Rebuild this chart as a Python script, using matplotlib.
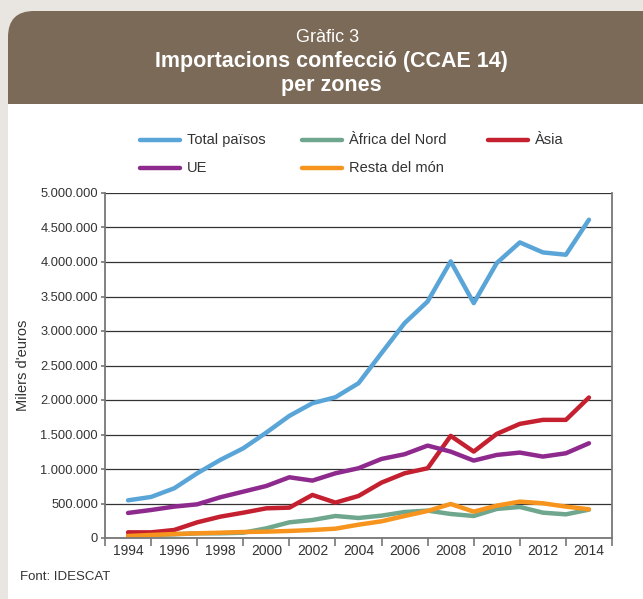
import matplotlib
matplotlib.use('Agg')
import matplotlib.pyplot as plt
from matplotlib.patches import Rectangle, FancyBboxPatch
from matplotlib.ticker import FuncFormatter, FixedLocator

# dades (milers d'euros)
years = list(range(1994, 2015))
total = [546, 595, 720, 938, 1131, 1300, 1528, 1770, 1953, 2040, 2243, 2680,
         3114, 3428, 4009, 3404, 3985, 4284, 4139, 4105, 4613]
africa = [39, 44, 53, 68, 68, 77, 140, 227, 261, 319, 290, 324,
          377, 397, 348, 319, 421, 450, 367, 343, 411]
asia = [82, 82, 116, 227, 309, 367, 430, 440, 624, 513, 609, 803,
        938, 1011, 1480, 1252, 1509, 1654, 1712, 1712, 2036]
ue = [363, 406, 455, 488, 590, 672, 754, 880, 832, 938, 1011, 1146,
      1214, 1339, 1252, 1122, 1204, 1238, 1180, 1228, 1373]
resta = [29, 44, 58, 68, 77, 87, 92, 102, 116, 135, 193, 242,
         319, 392, 493, 382, 469, 527, 503, 455, 416]

names = ['Total països', 'Àfrica del Nord', 'Àsia', 'UE', 'Resta del món']
values = [total, africa, asia, ue, resta]
colors = ['#5aa5d8', '#6fa68e', '#c4202f', '#8e2a8e', '#f7941d']

W, H = 643, 599
plt.rcParams['font.family'] = ['Liberation Sans', 'DejaVu Sans']
fig = plt.figure(figsize=(W / 100, H / 100), dpi=100)
fig.patch.set_facecolor('#e9e5e1')

# fons, capçalera i llegenda (coordenades en píxels)
bg = fig.add_axes([0, 0, 1, 1], zorder=0)
bg.set_xlim(0, W)
bg.set_ylim(H, 0)
bg.axis('off')
bg.add_patch(FancyBboxPatch((8, 11), W + 60, 93 + 60,
                            boxstyle='round,pad=0,rounding_size=26',
                            facecolor='#7b6a57', edgecolor='none'))
bg.add_patch(Rectangle((8, 104), W, H, facecolor='white', edgecolor='none'))
bg.text(328, 37, 'Gràfic 3', ha='center', va='center', color='white', fontsize=13)
bg.text(331, 62, 'Importacions confecció (CCAE 14)', ha='center', va='center',
        color='white', fontsize=15.5, fontweight='bold')
bg.text(331, 86, 'per zones', ha='center', va='center', color='white',
        fontsize=15.5, fontweight='bold')
bg.text(20, 577, 'Font: IDESCAT', ha='left', va='center', color='#333333', fontsize=9.5)

# llegenda feta a mà, en files
leg_pos = [(140, 140), (302, 140), (488, 140), (140, 168), (302, 168)]
for (lx, ly), name, col in zip(leg_pos, names, colors):
    bg.plot([lx, lx + 40], [ly, ly], color=col, lw=3.2, solid_capstyle='round')
    bg.text(lx + 47, ly, name, ha='left', va='center', color='#333333', fontsize=10.5)

ax = fig.add_axes([105 / W, 1 - 538 / H, 507 / W, 345 / H], zorder=1)
ax.set_facecolor('none')

for name, vals, col in zip(names, values, colors):
    ax.plot(years, [v * 1000 for v in vals], color=col, lw=3.2,
            solid_capstyle='round', solid_joinstyle='round', label=name)

ax.set_xlim(1993, 2015)
ax.set_ylim(0, 5000000)
ax.yaxis.set_major_locator(FixedLocator(range(0, 5000001, 500000)))
ax.yaxis.set_major_formatter(FuncFormatter(lambda v, p: f'{int(v):,}'.replace(',', '.')))
ax.grid(axis='y', color='#333333', lw=0.9, zorder=0)
ax.set_axisbelow(True)

ax.xaxis.set_major_locator(FixedLocator(range(1993, 2016, 2)))
ax.xaxis.set_major_formatter(FuncFormatter(lambda v, p: ''))
ax.xaxis.set_minor_locator(FixedLocator(range(1994, 2015, 2)))
ax.xaxis.set_minor_formatter(FuncFormatter(lambda v, p: str(int(v))))
ax.tick_params(axis='x', which='major', length=6, width=1.2, color='#777777', direction='out')
ax.tick_params(axis='x', which='minor', length=0, labelsize=10, labelcolor='#333333', pad=4)
ax.tick_params(axis='y', length=3, width=1.2, color='#777777', labelsize=9.3,
               labelcolor='#333333', pad=2)

for s in ['left', 'bottom', 'right', 'top']:
    ax.spines[s].set_color('#777777')
    ax.spines[s].set_linewidth(1.3)
ax.spines['top'].set_visible(False)

ax.set_ylabel("Milers d'euros", fontsize=10.5, color='#333333')
ax.yaxis.set_label_coords((30 - 105) / 507, 0.5)

fig.savefig('out.png', dpi=100, facecolor=fig.get_facecolor())
